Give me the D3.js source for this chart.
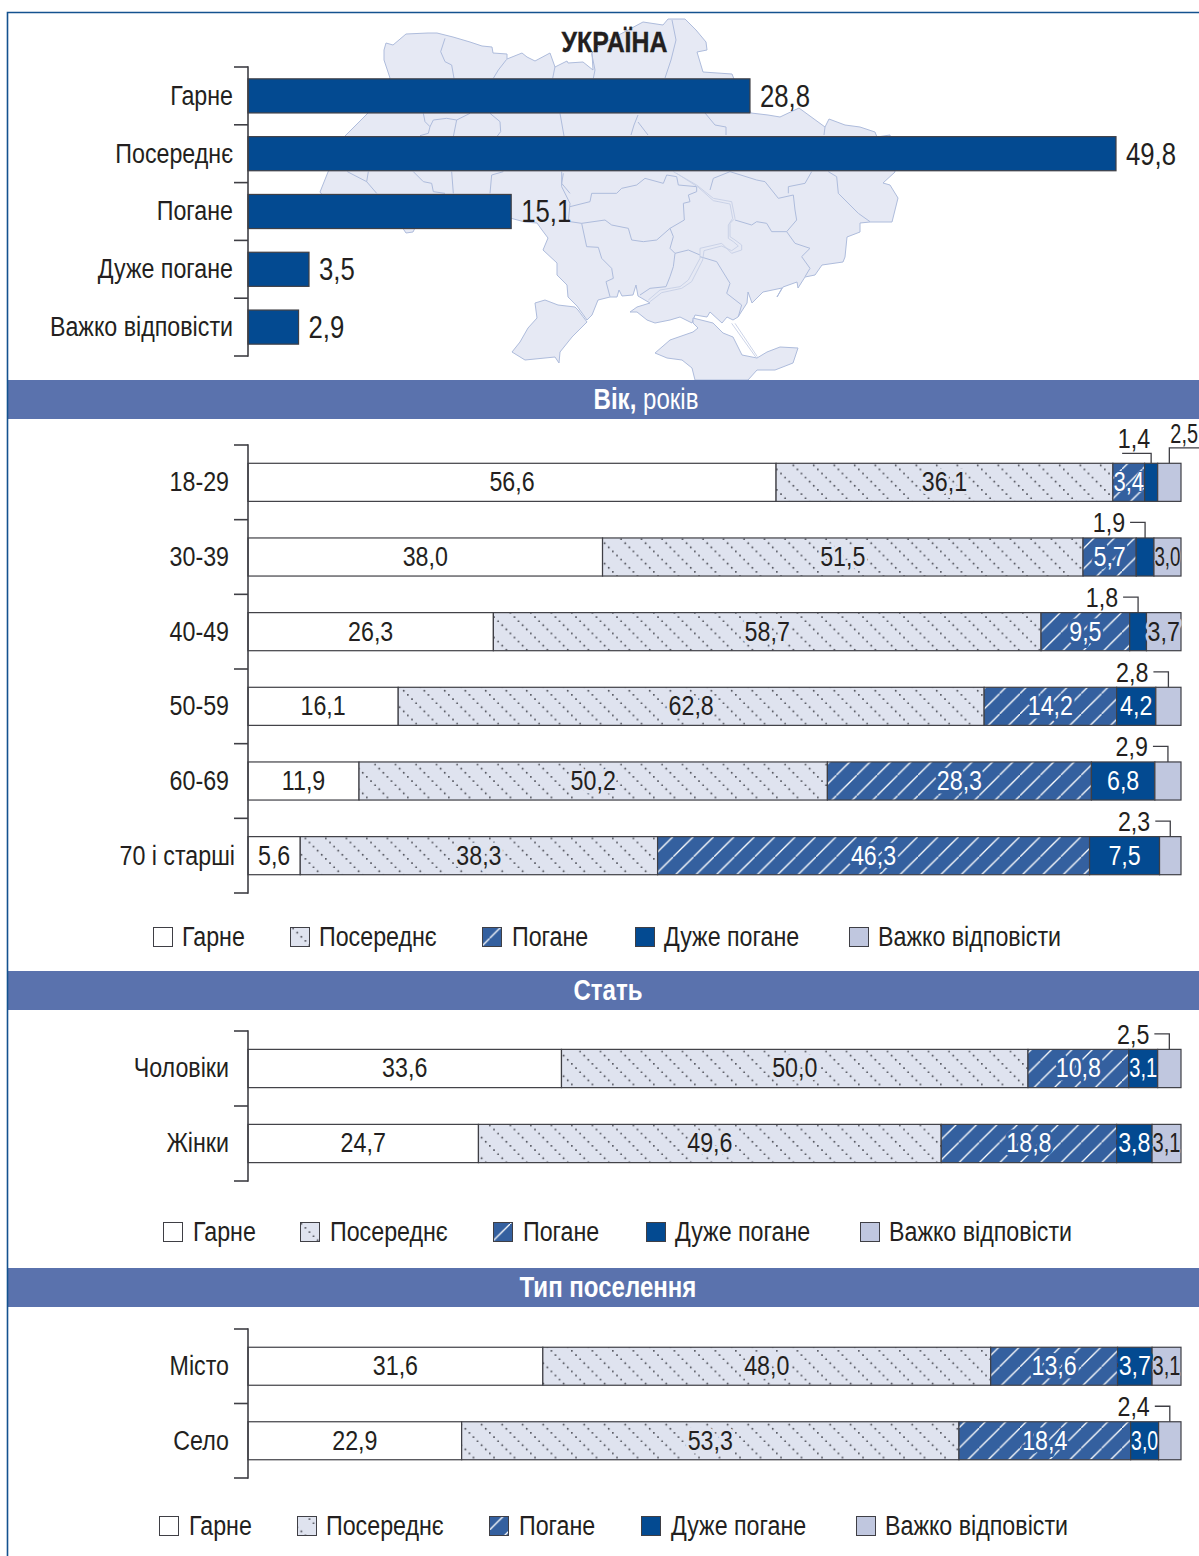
<!DOCTYPE html>
<html><head><meta charset="utf-8">
<script src="https://cdnjs.cloudflare.com/ajax/libs/d3/7.8.5/d3.min.js"></script>
<style>
html,body{margin:0;padding:0;background:#fff;overflow:hidden}
text{font-family:"Liberation Sans",sans-serif}
</style></head><body>
<script>
// ---------- data ----------
const overallCategories = ["Гарне","Посереднє","Погане","Дуже погане","Важко відповісти"];
const overallValues = [28.8,49.8,15.1,3.5,2.9];
const seriesNames = ["Гарне","Посереднє","Погане","Дуже погане","Важко відповісти"];

const ageCategories = ["18-29","30-39","40-49","50-59","60-69","70 і старші"];
const ageGood = [56.6,38.0,26.3,16.1,11.9,5.6];
const ageMedium = [36.1,51.5,58.7,62.8,50.2,38.3];
const ageBad = [3.4,5.7,9.5,14.2,28.3,46.3];
const ageVeryBad = [1.4,1.9,1.8,4.2,6.8,7.5];
const ageHard = [2.5,3.0,3.7,2.8,2.9,2.3];

const sexCategories = ["Чоловіки","Жінки"];
const sexGood = [33.6,24.7];
const sexMedium = [50.0,49.6];
const sexBad = [10.8,18.8];
const sexVeryBad = [3.1,3.8];
const sexHard = [2.5,3.1];

const settlementCategories = ["Місто","Село"];
const settlementGood = [31.6,22.9];
const settlementMedium = [48.0,53.3];
const settlementBad = [13.6,18.4];
const settlementVeryBad = [3.7,3.0];
const settlementHard = [3.1,2.4];

// ---------- decorative backdrop: hand-traced map of Ukraine ----------
const mapMainland = [[384,50],[386,43],[393,45],[406,34],[428,33],[437,33],[453,37],[470,42],[482,46],[492,47],[493,53],[507,54],[507,59],[522,53],[527,57],[535,61],[550,53],[555,67],[567,61],[568,63],[583,62],[593,70],[592,53],[600,45],[643,22],[663,25],[668,19],[685,19],[696,30],[706,42],[707,50],[697,52],[703,72],[732,74],[734,79],[745,100],[751,113],[768,115],[780,117],[799,108],[825,127],[829,119],[845,125],[860,127],[875,132],[877,137],[890,135],[895,172],[883,183],[890,185],[898,198],[892,222],[870,222],[860,223],[860,232],[847,237],[845,257],[843,262],[822,265],[815,275],[805,277],[798,288],[797,282],[783,287],[777,297],[782,288],[763,292],[752,303],[748,292],[747,303],[738,317],[733,320],[727,317],[722,323],[710,312],[707,317],[695,315],[692,323],[680,317],[670,320],[655,323],[647,320],[637,312],[630,312],[637,307],[650,303],[638,296],[636,285],[633,295],[622,296],[619,290],[617,297],[610,297],[598,300],[592,315],[587,320],[577,306],[568,297],[567,285],[557,275],[557,263],[543,250],[548,238],[542,230],[537,223],[525,222],[510,218],[470,215],[415,228],[413,232],[406,233],[402,227],[380,225],[330,205],[320,192],[328,172],[345,136],[368,113],[390,78],[384,60]];
const mapBessarabia = [[587,322],[578,310],[575,307],[558,305],[545,300],[535,303],[537,318],[528,328],[520,342],[512,352],[525,360],[555,357],[559,363],[560,352],[572,337]];
const mapCrimea = [[655,353],[670,340],[693,332],[698,328],[693,323],[693,318],[713,323],[723,333],[733,337],[742,355],[757,358],[767,352],[780,347],[798,348],[793,363],[775,370],[757,370],[748,380],[695,380],[692,368],[682,360],[667,358]];
const southBorders = [
 [[185,35],[185,80],[210,130],[205,185]],
 [[210,140],[270,125],[275,100],[350,100],[365,85],[410,75],[435,55],[490,70],[500,45],[530,50],[535,75],[590,80],[590,95],[565,105],[570,125],[550,130],[553,180],[510,205],[470,240],[430,245],[395,240],[385,205],[335,195],[315,180],[245,190],[210,185]],
 [[245,190],[260,260],[295,262],[305,295],[335,325],[340,355],[318,365],[330,410]],
 [[510,205],[520,230],[510,265],[525,280],[565,270],[600,285]],
 [[525,280],[520,320],[510,350],[498,380],[450,385],[420,405]],
 [[630,90],[640,55],[690,35],[770,60],[795,65],[835,115],[880,105],[885,150],[890,180],[860,215],[815,215],[800,190],[770,185],[755,195],[705,180]],
 [[860,215],[885,250],[930,265],[905,290],[930,325],[915,350]],
 [[865,100],[865,80],[915,70],[935,35]],
 [[985,35],[1010,50],[1015,100],[1075,160],[1110,185]],
 [[600,290],[650,305],[690,370],[680,400],[725,435],[715,470]]
];
const dniproLines = [
 [[520,35],[590,75],[640,115],[695,125],[705,175],[690,190],[690,230],[705,240],[725,255],[725,270],[695,280],[665,250],[600,265],[600,295],[565,360],[540,380],[480,390],[445,420]],
 [[530,40],[595,82],[640,122],[690,132],[698,175],[685,195],[685,235],[700,245],[715,258],[695,272],[665,258],[612,272],[608,300],[575,365],[545,385],[485,398],[450,425]],
 [[695,490],[770,595]],[[705,490],[772,590]]
];
const northBorders = [
 [[405,55],[392,95],[405,125],[425,135],[432,175]],
 [[590,118],[565,150],[550,175]],
 [[735,140],[728,175]],
 [[845,100],[855,150],[850,175]],
 [[540,280],[570,305],[572,335],[562,348]],
 [[340,280],[345,305],[360,320],[355,340],[330,347]],
 [[360,320],[370,300],[410,295],[440,300],[430,350]],
 [[440,300],[480,280]],
 [[750,280],[762,348]],
 [[112,455],[170,485],[200,520]],[[175,455],[170,485]],
 [[310,455],[340,485],[365,490],[370,515],[405,520]],
 [[425,455],[430,520]],
 [[580,455],[545,465],[540,520]],
 [[760,460],[755,490],[780,520]]
];
const easternBorders = [
 [[672,20],[676,40],[671,60],[665,78]],
 [[705,113],[715,125],[726,127],[726,135]],
 [[825,127],[824,135]],
 [[638,115],[634,125],[631,135]],
 [[638,122],[648,135]]
];

// ---------- styles ----------
const colors = {ink:"#231f20",navy:"#034a91",band:"#5a72ad",bad:"#34609f",medium:"#dfe3ef",hard:"#c0c7df",edge:"#3f3f45",frame:"#14528f",mapFill:"#e6e9f4",mapLine:"#aebcdc"};
const W=1199,H=1556,SX=.83,FS=28;
const svg=d3.select("body").append("svg").attr("width",W).attr("height",H).attr("viewBox",`0 0 ${W} ${H}`).style("display","block");
const defs=svg.append("defs");

const pM=defs.append("pattern").attr("id","pMedium").attr("patternUnits","userSpaceOnUse").attr("width",20.5).attr("height",20.5);
pM.append("rect").attr("width",20.5).attr("height",20.5).attr("fill",colors.medium);
d3.range(5).forEach(i=>pM.append("circle").attr("cx",2+i*4.1).attr("cy",2+i*4.1).attr("r",.85).attr("fill","#2a2b33"));
const pB=defs.append("pattern").attr("id","pBad").attr("patternUnits","userSpaceOnUse").attr("width",20.4).attr("height",20.4);
pB.append("rect").attr("width",20.4).attr("height",20.4).attr("fill",colors.bad);
pB.append("path").attr("d","M-2 22.4L22.4 -2").attr("stroke","#fff").attr("stroke-width",1.3);

const fills=["#fff","url(#pMedium)","url(#pBad)",colors.navy,colors.hard];
const haloes=["#fff",colors.medium,colors.bad,colors.navy,colors.hard];
const textColors=[colors.ink,colors.ink,"#fff","#fff",colors.ink];

// ---------- map ----------
const mapG=svg.append("g");
const line=d3.line();
const south=p=>[500+p[0]/3,160+p[1]/3];
const north=p=>[310+p[0]/3,20+p[1]/3];
[mapMainland,mapBessarabia,mapCrimea].forEach(r=>mapG.append("path").attr("d",line(r)+"Z").attr("fill",colors.mapFill).attr("stroke",colors.mapLine).attr("stroke-width",1));
const borders=[...southBorders.map(l=>l.map(south)),...northBorders.map(l=>l.map(north)),...easternBorders];
mapG.selectAll(".b").data(borders).join("path").attr("d",line).attr("fill","none").attr("stroke",colors.mapLine).attr("stroke-width",1);
mapG.selectAll(".d").data(dniproLines.map(l=>l.map(south))).join("path").attr("d",line).attr("fill","none").attr("stroke","#c6cfe5").attr("stroke-width",.9);

// ---------- title ----------
svg.append("text").attr("x",614.5).attr("y",52).attr("text-anchor","middle").attr("font-size",30).attr("font-weight",700).attr("fill",colors.ink).attr("stroke",colors.ink).attr("stroke-width",.4).text("УКРАЇНА");

// ---------- helpers ----------
const AXIS_X=248;
function drawAxis(y,labelEnd,overrides={}){
  const ax=svg.append("g").attr("transform",`translate(${AXIS_X},0)`);
  ax.call(d3.axisLeft(y).tickSize(0).tickPadding(AXIS_X-labelEnd));
  ax.select(".domain").remove();
  ax.selectAll(".tick text").attr("font-size",FS).attr("fill",colors.ink).attr("font-family",'"Liberation Sans"')
    .attr("x",d=>-(AXIS_X-(overrides[d]||labelEnd)));
  const step=y.step(),r=y.range();
  const edges=d3.range(y.domain().length+1).map(i=>r[0]+i*step);
  ax.selectAll(".edge").data(edges).join("line").attr("x1",-14).attr("x2",0).attr("y1",d=>d).attr("y2",d=>d).attr("stroke",colors.edge).attr("stroke-width",1.6);
  ax.append("line").attr("x1",0).attr("x2",0).attr("y1",r[0]-.8).attr("y2",r[1]+.8).attr("stroke",colors.edge).attr("stroke-width",1.6);
}
function header(y0,cx,bold,rest){
  svg.append("rect").attr("x",8).attr("y",y0).attr("width",W-8).attr("height",39).attr("fill",colors.band);
  const t=svg.append("text").attr("x",cx).attr("y",y0+29).attr("text-anchor","middle").attr("font-size",29).attr("fill","#fff");
  t.append("tspan").attr("font-weight",700).text(bold);
  if(rest) t.append("tspan").text(rest);
}
function legend(yc,swatchX,textX){
  const g=svg.append("g");
  seriesNames.forEach((n,i)=>{
    g.append("rect").attr("x",swatchX[i]+.5).attr("y",yc-9.5).attr("width",19).attr("height",19).attr("fill",fills[i]).attr("stroke",colors.edge).attr("stroke-width",1);
    g.append("text").attr("x",textX[i]).attr("y",yc+9).attr("font-size",FS).attr("fill",colors.ink).text(n);
  });
}
const xStack=d3.scaleLinear().domain([0,100]).range([AXIS_X,1181]);

function stacked(categories,cols,yTopPx,yBottomPx,leaders,overrides){
  const y=d3.scaleBand().domain(categories).range([yTopPx,yBottomPx]).paddingInner(.49).paddingOuter(.245);
  const rows=categories.map((c,i)=>({c,vals:cols.map(s=>s[i])}));
  const g=svg.append("g");
  rows.forEach(r=>{
    let cum=0;
    r.vals.forEach((v,s)=>{
      const x0=xStack(cum),x1=Math.min(xStack(cum+v),xStack(100));cum+=v;
      g.append("rect").attr("x",x0).attr("y",y(r.c)).attr("width",x1-x0).attr("height",y.bandwidth()).attr("fill",fills[s]).attr("stroke",colors.edge).attr("stroke-width",1.2);
    });
  });
  rows.forEach(r=>{
    let cum=0;
    r.vals.forEach((v,s)=>{
      const x0=xStack(cum),x1=Math.min(xStack(cum+v),xStack(100));cum+=v;
      const label=d3.format(".1f")(v).replace(".",",");
      const cy=y(r.c)+y.bandwidth()/2;
      const lead=leaders[r.c+"|"+s];
      if(lead){
        const mx=(x0+x1)/2, ly=y(r.c)-(lead==="long"?10:15.5), top=y(r.c);
        const pts= lead==="long"?[[mx-29,ly],[mx,ly],[mx,top]]: lead==="right"?[[mx,top],[mx,ly],[W,ly]]:[[mx-15,ly],[mx,ly],[mx,top]];
        g.append("path").attr("d",d3.line()(pts)).attr("fill","none").attr("stroke",colors.edge).attr("stroke-width",1.3);
        const t=g.append("text").attr("font-size",FS).attr("fill",colors.ink).attr("y",lead==="short"?ly+10:ly-5).text(label);
        if(lead==="right") t.attr("x",mx+1).attr("data-sx",.71);
        else if(lead==="long") t.attr("x",mx-1).attr("text-anchor","end");
        else t.attr("x",mx-20).attr("text-anchor","end");
      } else {
        const wd=x1-x0;
        const narrow=wd<34;
        const t=g.append("text").attr("x",(x0+x1)/2).attr("y",cy+9).attr("text-anchor","middle").attr("font-size",FS).attr("fill",textColors[s])
          .attr("stroke",haloes[s]).attr("stroke-width",narrow?2:7).attr("paint-order","stroke").attr("stroke-linejoin","round").text(label);
        if(narrow){t.attr("textLength",Math.max(wd-1,26)/SX).attr("lengthAdjust","spacingAndGlyphs");}
      }
    });
  });
  drawAxis(y,229,overrides);
}

// ---------- overall bars ----------
const xTop=d3.scaleLinear().domain([0,49.8]).range([AXIS_X,1116]);
const yTop=d3.scaleBand().domain(overallCategories).range([67,356]).paddingInner(.41).paddingOuter(.205);
const topG=svg.append("g");
topG.selectAll("rect").data(overallValues).join("rect")
  .attr("x",AXIS_X).attr("y",(d,i)=>yTop(overallCategories[i])).attr("width",d=>xTop(d)-AXIS_X).attr("height",yTop.bandwidth())
  .attr("fill",colors.navy).attr("stroke",colors.edge).attr("stroke-width",1.2);
topG.selectAll("text").data(overallValues).join("text")
  .attr("x",d=>xTop(d)+10).attr("y",(d,i)=>yTop(overallCategories[i])+yTop.bandwidth()/2+11)
  .attr("font-size",31).attr("fill",colors.ink).text(d=>d3.format(".1f")(d).replace(".",","));
drawAxis(yTop,233);

// ---------- sections ----------
header(380,646,"Вік,"," років");
stacked(ageCategories,[ageGood,ageMedium,ageBad,ageVeryBad,ageHard],445,893,{
 "18-29|3":"long","18-29|4":"right","30-39|3":"short","40-49|3":"short","50-59|4":"short","60-69|4":"short","70 і старші|4":"short"},{"70 і старші":235});
legend(937,[153,290,482,635,849],[182,319,512,664,878]);

header(971,608,"Стать");
stacked(sexCategories,[sexGood,sexMedium,sexBad,sexVeryBad,sexHard],1031,1181,{"Чоловіки|4":"short"});
legend(1232,[163,300,493,646,860],[193,330,523,675,889]);

header(1268,608,"Тип поселення");
stacked(settlementCategories,[settlementGood,settlementMedium,settlementBad,settlementVeryBad,settlementHard],1329,1478,{"Село|4":"short"});
legend(1526,[159,297,489,641,856],[189,326,519,671,885]);

// ---------- frame ----------
svg.append("path").attr("d",`M7.5 ${H}V12.5H${W}`).attr("fill","none").attr("stroke",colors.frame).attr("stroke-width",1.6);

// condensed lettering: no narrow face is installed, so squeeze each text around its own anchor
svg.selectAll("text").each(function(){
  const x=+this.getAttribute("x")||0;
  const sx=+this.getAttribute("data-sx")||SX;
  this.setAttribute("transform",`translate(${x*(1-sx)},0) scale(${sx},1)`);
});
</script>
</body></html>
